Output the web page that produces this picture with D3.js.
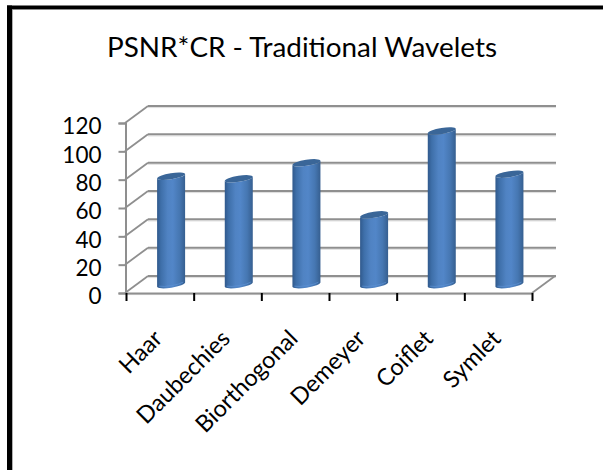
<!DOCTYPE html>
<html><head><meta charset="utf-8">
<script src="https://cdn.jsdelivr.net/npm/d3@7/dist/d3.min.js"></script>
<style>html,body{margin:0;padding:0;background:#fff}svg{display:block}text{font-family:Lato,"Open Sans",sans-serif;fill:#000}</style>
</head><body><script>
const categories = ["Haar","Daubechies","Biorthogonal","Demeyer","Coiflet","Symlet"];
const values = [76.5,74.7,86,49.3,108.5,78];
const yTicks = [0,20,40,60,80,100,120];
const titleText = "PSNR*CR - Traditional Wavelets";

const W=603,H=470, depthX=23, depthY=-17;
const svg=d3.select("body").append("svg").attr("width",W).attr("height",H);
const y=d3.scaleLinear().domain([0,120]).range([293,123]);
const x=d3.scaleBand().domain(categories).range([126,532]);
const edge=d3.scaleLinear().domain([0,categories.length]).range([126,532]);

// frame
svg.append("rect").attr("width",W).attr("height",H).attr("fill","#fff");
svg.append("rect").attr("x",7).attr("y",5.5).attr("width",5).attr("height",H).attr("fill","#000");
svg.append("rect").attr("x",7).attr("y",5.5).attr("width",W).attr("height",3.5).attr("fill","#000");
svg.append("rect").attr("x",12).attr("y",9).attr("width",1).attr("height",H).attr("fill","#b0b0b0");
svg.append("rect").attr("x",12).attr("y",9).attr("width",W).attr("height",1).attr("fill","#8a8a8a");

svg.append("text").attr("x",302).attr("y",57).attr("text-anchor","middle").attr("font-size",27).attr("textLength",390).attr("lengthAdjust","spacingAndGlyphs").text(titleText);

const grey="#8f8f8f", shadow="#dcdcdc";
const g=svg.append("g");
yTicks.forEach(t=>{
  const yy=y(t);
  g.append("line").attr("x1",125+depthX).attr("x2",532+depthX+1).attr("y1",yy+depthY+1.6).attr("y2",yy+depthY+1.6).attr("stroke",shadow).attr("stroke-width",1);
  g.append("line").attr("x1",125+depthX).attr("x2",532+depthX+1).attr("y1",yy+depthY).attr("y2",yy+depthY).attr("stroke",grey).attr("stroke-width",2);
  g.append("line").attr("x1",125).attr("x2",125+depthX).attr("y1",yy).attr("y2",yy+depthY).attr("stroke",grey).attr("stroke-width",1.8);
});
g.append("line").attr("x1",532).attr("x2",532+depthX).attr("y1",y(0)).attr("y2",y(0)+depthY).attr("stroke",grey).attr("stroke-width",1.8);
g.append("line").attr("x1",126).attr("x2",532).attr("y1",y(0)+1.6).attr("y2",y(0)+1.6).attr("stroke",shadow).attr("stroke-width",1);

const defs=svg.append("defs");
const gr=defs.append("linearGradient").attr("id","cyl").attr("x1",0).attr("x2",1).attr("y1",0).attr("y2",0);
[[0,"#30598c"],[0.14,"#3e6fa9"],[0.38,"#5083c3"],[0.56,"#5286c8"],[0.8,"#4677b2"],[1,"#365f90"]].forEach(s=>gr.append("stop").attr("offset",s[0]).attr("stop-color",s[1]));

const rx=14, ry=3, tilt=2.2, rot=-9;
const cxOf=c=>x(c)+x.bandwidth()/2+depthX*0.49;
const yMid=v=>y(v)+depthY*0.49;
const bars=g.selectAll("g.bar").data(categories.map((c,i)=>({c,v:values[i]}))).join("g").attr("class","bar");
bars.append("path").attr("fill","url(#cyl)").attr("d",d=>{
  const c=cxOf(d.c),t=yMid(d.v),b=yMid(0);
  return `M${c-rx} ${t+tilt}L${c-rx} ${b+tilt}A${rx} ${ry} ${rot} 0 0 ${c+rx} ${b-tilt}L${c+rx} ${t-tilt}A${rx} ${ry} ${rot} 0 1 ${c-rx} ${t+tilt}Z`;
});
bars.append("path").attr("fill","none").attr("stroke","#5c92d4").attr("stroke-opacity",0.7).attr("stroke-width",1).attr("d",d=>{
  const c=cxOf(d.c),b=yMid(0)-0.5;
  return `M${c-rx+2} ${b+tilt-0.2}A${rx} ${ry} ${rot} 0 0 ${c+rx-2} ${b-tilt+0.2}`;
});
bars.append("path").attr("fill","#3a6698").attr("d",d=>{
  const c=cxOf(d.c),t=yMid(d.v);
  return `M${c-rx} ${t+tilt}A${rx} ${ry} ${rot} 0 1 ${c+rx} ${t-tilt}A${rx} ${ry} ${rot} 0 1 ${c-rx} ${t+tilt}Z`;
});

const ya=svg.append("g").attr("transform","translate(125.5,0)").call(d3.axisLeft(y).tickValues(yTicks).tickSize(7).tickPadding(17));
ya.select(".domain").attr("stroke",grey).attr("stroke-width",2);
ya.selectAll(".tick line").attr("stroke",grey).attr("stroke-width",2);
ya.selectAll(".tick text").attr("font-size",22.5).attr("font-family","Lato").attr("fill","#000").attr("dy","0.48em");

const xa=svg.append("g").attr("transform",`translate(0,${y(0)})`).call(d3.axisBottom(edge).tickValues(d3.range(categories.length+1)).tickSize(8).tickFormat(""));
xa.select(".domain").attr("stroke",grey).attr("stroke-width",2).attr("d","M125,0.5H532.5");
xa.selectAll(".tick line").attr("stroke","#000").attr("stroke-width",2);

svg.append("g").selectAll("text").data(categories).join("text")
  .attr("font-size",23.5).attr("text-anchor","end")
  .attr("transform",d=>`translate(${x(d)+x.bandwidth()/2+4},340) rotate(-45)`)
  .text(d=>d);
</script></body></html>
